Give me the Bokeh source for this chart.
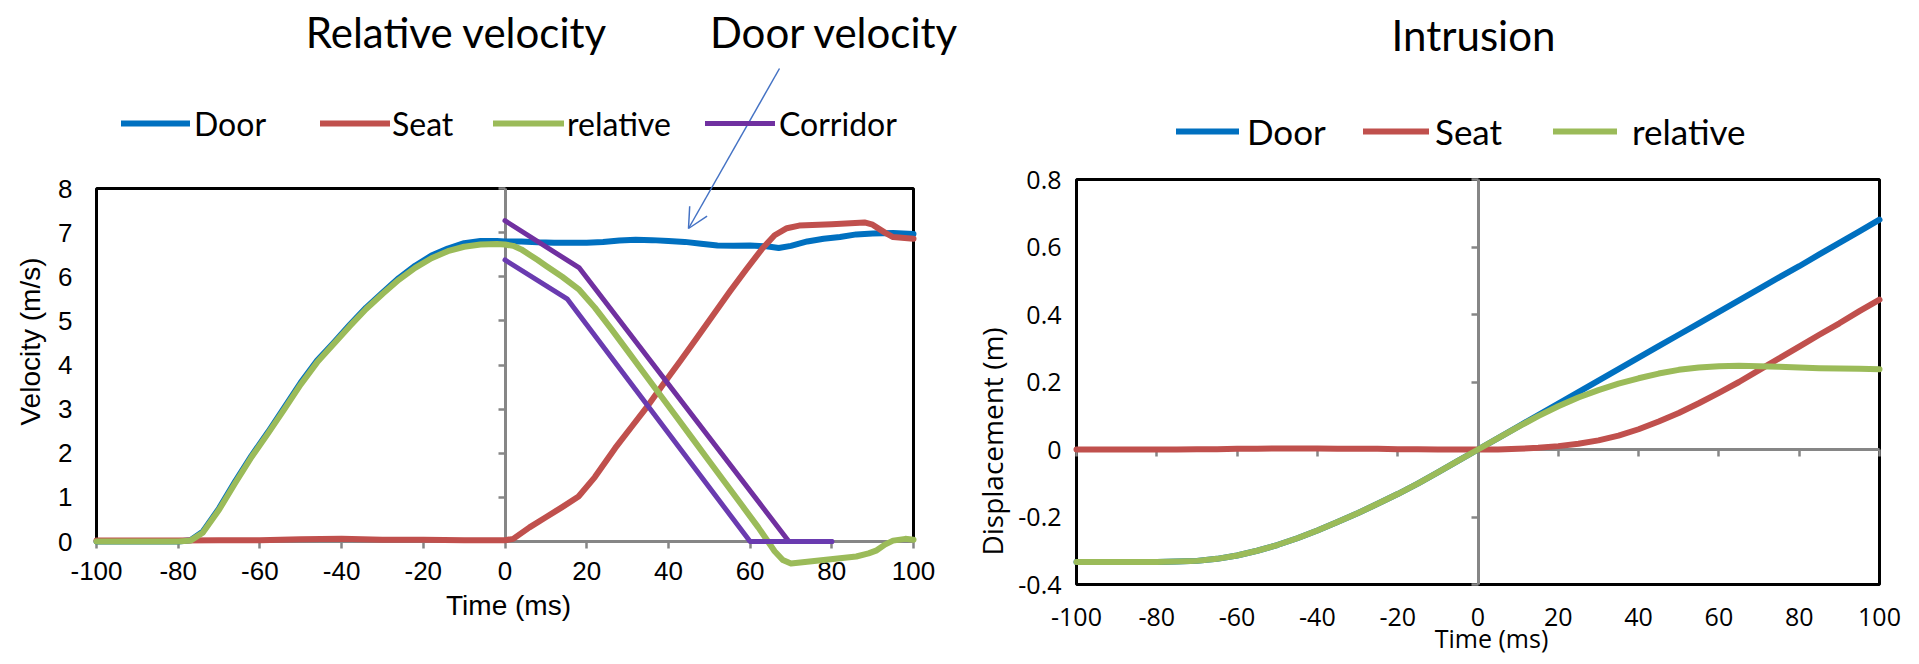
import math
from bokeh.plotting import figure
from bokeh.models import (Range1d, LinearAxis, FixedTicker, BoxAnnotation, Label,
                          Legend, LegendItem, Arrow, OpenHead)
from bokeh.layouts import row
from bokeh.embed import file_html
from bokeh.resources import INLINE

# ---------------- data: left chart (velocity, m/s) ----------------
vel_t_door = [-100, -90, -80, -77, -74, -70, -66, -62, -58, -54, -50, -46, -42, -38, -34,
              -30, -26, -22, -18, -14, -10, -6, -2, 0, 4, 8, 12, 16, 20, 24, 28, 32, 36,
              40, 44, 48, 52, 56, 60, 64, 67, 70, 74, 78, 82, 86, 90, 95, 100]
vel_door = [0.0, 0.0, 0.0, 0.03, 0.22, 0.75, 1.37, 1.95, 2.48, 3.04, 3.6, 4.1, 4.5, 4.91, 5.3,
            5.64, 5.97, 6.25, 6.48, 6.64, 6.76, 6.81, 6.81, 6.8, 6.8, 6.78, 6.77, 6.77, 6.77,
            6.79, 6.82, 6.84, 6.83, 6.81, 6.79, 6.75, 6.71, 6.7, 6.71, 6.69, 6.65, 6.7, 6.8,
            6.86, 6.9, 6.96, 6.98, 6.99, 6.97]

vel_t_seat = [-100, -90, -80, -70, -60, -50, -40, -30, -20, -10, 0, 2, 6, 10, 14, 18, 22, 27,
              31, 35, 39, 43, 47, 51, 55, 59, 63, 66, 69, 72, 80, 88, 90, 93, 95, 100]
vel_seat = [0.02, 0.02, 0.02, 0.03, 0.03, 0.05, 0.06, 0.04, 0.04, 0.03, 0.03, 0.06, 0.32, 0.55,
            0.78, 1.02, 1.46, 2.12, 2.6, 3.08, 3.6, 4.1, 4.62, 5.14, 5.66, 6.16, 6.64, 6.94,
            7.1, 7.16, 7.19, 7.23, 7.18, 7.0, 6.9, 6.86]

vel_t_rel = [-100, -90, -80, -77, -74, -70, -66, -62, -58, -54, -50, -46, -42, -38, -34, -30,
             -26, -22, -18, -14, -10, -6, -2, 0, 2, 4, 6, 8, 10, 14, 18, 22, 26, 30, 34, 38,
             42, 46, 50, 54, 58, 62, 64, 66, 68, 70, 74, 78, 82, 86, 89, 91, 93, 95, 98, 100]
vel_rel = [0.0, 0.0, 0.0, 0.02, 0.2, 0.72, 1.33, 1.92, 2.45, 3.0, 3.56, 4.06, 4.47, 4.88, 5.27,
           5.61, 5.93, 6.2, 6.42, 6.58, 6.68, 6.73, 6.74, 6.73, 6.7, 6.62, 6.5, 6.38, 6.25,
           6.0, 5.72, 5.3, 4.82, 4.32, 3.82, 3.32, 2.82, 2.32, 1.82, 1.32, 0.82, 0.32, 0.05,
           -0.22, -0.42, -0.5, -0.46, -0.42, -0.38, -0.34, -0.27, -0.2, -0.07, 0.02, 0.06, 0.04]

corr_up_t = [0, 18.2, 69.5, 80]
corr_up_v = [7.27, 6.2, 0.0, 0.0]
corr_lo_t = [0, 15.2, 60, 80]
corr_lo_v = [6.38, 5.5, 0.0, 0.0]

time_ticks = [-100, -80, -60, -40, -20, 0, 20, 40, 60, 80, 100]
time_tick_labels = ["-100", "-80", "-60", "-40", "-20", "0", "20", "40", "60", "80", "100"]
vel_ticks = [0, 1, 2, 3, 4, 5, 6, 7, 8]

# ---------------- data: right chart (displacement, m) ----------------
disp_t = [-100, -95, -90, -85, -80, -75, -70, -65, -60, -55, -50, -45, -40, -35, -30, -25,
          -20, -15, -10, -5, 0, 5, 10, 15, 20, 25, 30, 35, 40, 45, 50, 55, 60, 65, 70, 75,
          80, 85, 90, 95, 100]
disp_door = [-0.333, -0.333, -0.333, -0.333, -0.333, -0.332, -0.330, -0.324, -0.314, -0.300,
             -0.283, -0.263, -0.240, -0.215, -0.189, -0.161, -0.132, -0.101, -0.068, -0.034,
             0.0, 0.034, 0.068, 0.102, 0.136, 0.170, 0.204, 0.238, 0.272, 0.306, 0.340,
             0.374, 0.408, 0.442, 0.476, 0.510, 0.543, 0.578, 0.612, 0.646, 0.681]
disp_seat = [0.0, 0.0, 0.0, 0.0, 0.0, 0.0, 0.001, 0.001, 0.002, 0.002, 0.003, 0.003, 0.003,
             0.002, 0.002, 0.002, 0.001, 0.001, 0.0, 0.0, 0.0, 0.0, 0.002, 0.005, 0.01, 0.017,
             0.027, 0.041, 0.06, 0.083, 0.108, 0.137, 0.168, 0.2, 0.235, 0.27, 0.305, 0.34,
             0.374, 0.41, 0.444]
disp_rel = [-0.333, -0.333, -0.333, -0.333, -0.333, -0.332, -0.330, -0.324, -0.314, -0.300,
            -0.283, -0.263, -0.240, -0.215, -0.189, -0.161, -0.132, -0.101, -0.068, -0.034,
            0.0, 0.034, 0.067, 0.099, 0.128, 0.154, 0.176, 0.195, 0.211, 0.225, 0.236, 0.243,
            0.247, 0.248, 0.247, 0.245, 0.243, 0.241, 0.240, 0.239, 0.238]
disp_ticks = [-0.4, -0.2, 0, 0.2, 0.4, 0.6, 0.8]
disp_tick_labels = ["-0.4", "-0.2", "0", "0.2", "0.4", "0.6", "0.8"]

# ---------------- style ----------------
BLUE, RED, GREEN, PURPLE, PURPLE2 = "#0070C0", "#C0504D", "#9BBB59", "#7030A0", "#6A3BB0"
GRAY, ARROW = "#868686", "#4472C4"
H = 656
LW, RW = 970, 933
TITLE_FONT, LEFT_FONT, RIGHT_FONT = "Lato", "Liberation Sans", "Open Sans"


def mapper(p_a, v_a, p_b, v_b):
    k = (v_b - v_a) / (p_b - p_a)
    return lambda p: v_a + (p - p_a) * k


# picture-pixel anchors of the two plot boxes
lx = mapper(96, -100, 913, 100)
ly = mapper(541, 0, 188, 8)
rx = mapper(1076, -100, 1879, 100)
ry = mapper(449, 0, 179, 0.8)


def make_fig(w, xr, yr):
    p = figure(width=w, height=H, x_range=xr, y_range=yr, min_border=0,
               x_axis_location=None, y_axis_location=None, toolbar_location=None,
               output_backend="svg", outline_line_color=None,
               background_fill_color="white", border_fill_color="white")
    p.grid.visible = False
    return p


def gray_axis(loc, bounds, ticks):
    return LinearAxis(fixed_location=loc, bounds=bounds, ticker=FixedTicker(ticks=ticks),
                      axis_line_color=GRAY, axis_line_width=3,
                      major_tick_line_color=GRAY, major_tick_line_width=2.5,
                      major_tick_out=7, major_tick_in=0,
                      minor_tick_line_color=None, minor_tick_out=0, minor_tick_in=0,
                      major_label_text_color=None, level="underlay")


def label_axis(loc, bounds, ticks, overrides, font, size, standoff):
    return LinearAxis(fixed_location=loc, bounds=bounds, ticker=FixedTicker(ticks=ticks),
                      major_label_overrides=overrides,
                      axis_line_color=None, major_tick_line_color=None,
                      minor_tick_line_color=None, major_tick_out=0, major_tick_in=0,
                      minor_tick_out=0, minor_tick_in=0, major_label_standoff=standoff,
                      major_label_text_font=font, major_label_text_font_size=size,
                      major_label_text_color="black", level="underlay")


def legend_item(p, label, renderer, x0, y_center, glyph_w, standoff, size):
    lg = Legend(items=[LegendItem(label=label, renderers=[renderer])],
                location=(x0, H - y_center - 22), orientation="horizontal",
                padding=0, margin=0, spacing=0, border_line_color=None,
                background_fill_alpha=0, glyph_width=glyph_w, glyph_height=44,
                label_height=44, label_standoff=standoff,
                label_text_font=TITLE_FONT, label_text_font_size=size,
                label_text_color="black")
    p.add_layout(lg)


def text(p, x, y, s, font, size, angle=0.0):
    p.add_layout(Label(x=x, y=y, text=s, text_font=font, text_font_size=size,
                       text_align="center", text_baseline="middle", angle=angle,
                       text_color="black"))


def box(p, left, right, bottom, top):
    p.add_layout(BoxAnnotation(left=left, right=right, bottom=bottom, top=top,
                               fill_color=None, fill_alpha=0, line_color="black",
                               line_alpha=1.0, line_width=3, level="image"))


LINE = dict(line_width=6, line_join="round", line_cap="round")

# ================= left chart =================
p1 = make_fig(LW, Range1d(lx(0), lx(LW)), Range1d(ly(H), ly(0)))
box(p1, -100, 100, 0, 8)
p1.add_layout(gray_axis(0, (0, 8), vel_ticks), "left")
p1.add_layout(label_axis(-100, (0, 8), vel_ticks, {}, LEFT_FONT, "26px", 24), "left")
ax = gray_axis(0, (-100, 100), time_ticks)
ax.major_label_text_color = "black"
ax.major_label_text_font = LEFT_FONT
ax.major_label_text_font_size = "26px"
ax.major_label_standoff = 13
ax.major_label_overrides = dict(zip(time_ticks, time_tick_labels))
p1.add_layout(ax, "below")

r_door = p1.line(vel_t_door, vel_door, line_color=BLUE, **LINE)
r_seat = p1.line(vel_t_seat, vel_seat, line_color=RED, **LINE)
r_rel = p1.line(vel_t_rel, vel_rel, line_color=GREEN, **LINE)
r_corr = p1.line(corr_up_t, corr_up_v, line_color=PURPLE, line_width=5, line_join="round", line_cap="round")
p1.line(corr_lo_t, corr_lo_v, line_color=PURPLE2, line_width=5, line_join="round", line_cap="round")

legend_item(p1, "Door", r_door, 118 + 3, 123, 69, 4, "32px")
legend_item(p1, "Seat", r_seat, 317 + 3, 123, 70, 2, "32px")
legend_item(p1, "relative", r_rel, 490 + 3, 123, 71, 3, "32px")
legend_item(p1, "Corridor", r_corr, 702 + 3, 123, 70, 4, "32px")

text(p1, lx(456), ly(31), "Relative velocity", TITLE_FONT, "42px")
text(p1, lx(834), ly(31), "Door velocity", TITLE_FONT, "42px")
text(p1, lx(30), ly(341), "Velocity (m/s)", LEFT_FONT, "28px", math.pi / 2)
text(p1, lx(508), ly(605), "Time (ms)", LEFT_FONT, "28px")
p1.add_layout(Arrow(end=OpenHead(size=20, line_color=ARROW, line_width=1.5),
                    x_start=lx(779), y_start=ly(68), x_end=lx(688), y_end=ly(228),
                    line_color=ARROW, line_width=1.5))

# ================= right chart =================
p2 = make_fig(RW, Range1d(rx(LW), rx(LW + RW)), Range1d(ry(H), ry(0)))
box(p2, -100, 100, -0.4, 0.8)
p2.add_layout(gray_axis(0, (-0.4, 0.8), disp_ticks), "left")
p2.add_layout(label_axis(-100, (-0.4, 0.8), disp_ticks, dict(zip(disp_ticks, disp_tick_labels)),
                         RIGHT_FONT, "25px", 15), "left")
p2.add_layout(gray_axis(0, (-100, 100), time_ticks), "below")
p2.add_layout(label_axis(-0.4, (-100, 100), time_ticks, dict(zip(time_ticks, time_tick_labels)),
                         RIGHT_FONT, "25px", 23), "below")

q_door = p2.line(disp_t, disp_door, line_color=BLUE, **LINE)
q_seat = p2.line(disp_t, disp_seat, line_color=RED, **LINE)
q_rel = p2.line(disp_t, disp_rel, line_color=GREEN, **LINE)

legend_item(p2, "Door", q_door, 1173 + 3 - LW, 131, 63, 8, "35px")
legend_item(p2, "Seat", q_seat, 1360 + 3 - LW, 131, 66, 6, "35px")
legend_item(p2, "relative", q_rel, 1550 + 3 - LW, 131, 64, 15, "35px")

text(p2, rx(1473), ry(34), "Intrusion", TITLE_FONT, "42px")
text(p2, rx(991), ry(441), "Displacement (m)", RIGHT_FONT, "28px", math.pi / 2)
text(p2, rx(1491), ry(637), "Time (ms)", RIGHT_FONT, "25px")

layout = row(p1, p2)
open("out.html", "w").write(file_html(layout, INLINE))
